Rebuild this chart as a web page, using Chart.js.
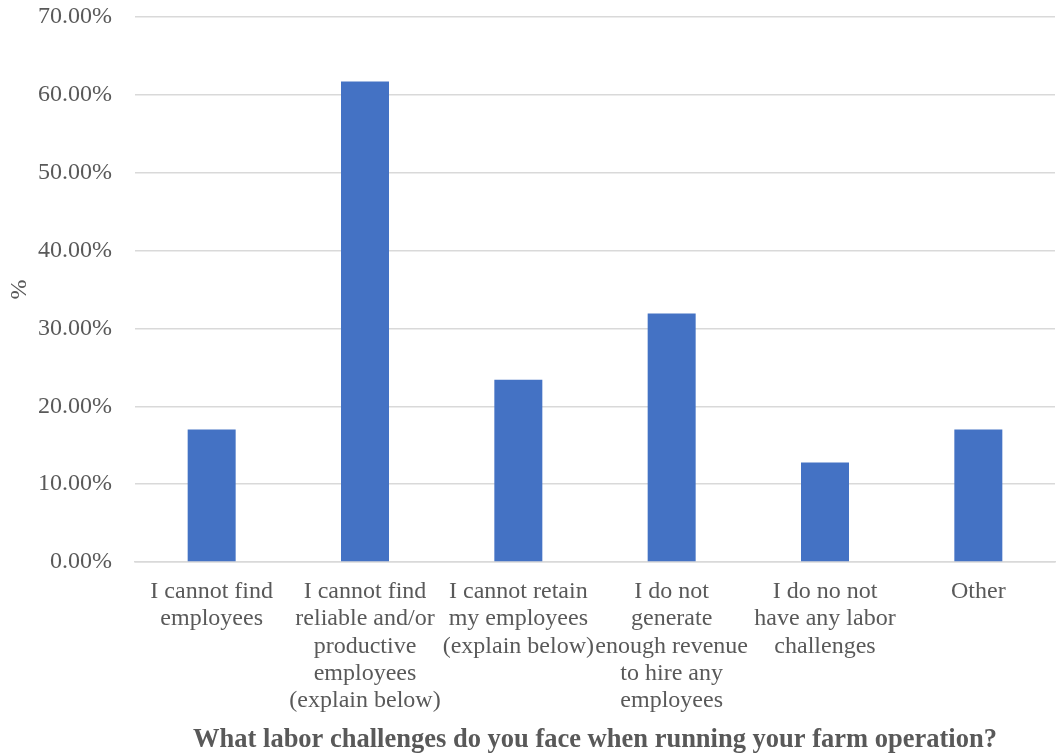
<!DOCTYPE html>
<html>
<head>
<meta charset="utf-8">
<script src="https://cdn.jsdelivr.net/npm/chart.js@4"></script>
<style>
  html, body { margin: 0; padding: 0; background: #fff; }
  #wrap { width: 1056px; height: 753px; }
</style>
</head>
<body>
<div id="wrap"><canvas id="laborChart"></canvas></div>
<script>
// answers to the labor challenges question, % of respondents
const categories = [
  ["I cannot find", "employees"],
  ["I cannot find", "reliable and/or", "productive", "employees", "(explain below)"],
  ["I cannot retain", "my employees", "(explain below)"],
  ["I do not", "generate", "enough revenue", "to hire any", "employees"],
  ["I do no not", "have any labor", "challenges"],
  ["Other"]
];
const shares = [17.02, 61.70, 23.40, 31.91, 12.77, 17.02];
const yTicks = [0, 10, 20, 30, 40, 50, 60, 70];

const textColor = "#595959";
const serif = "'Liberation Serif', 'Times New Roman', serif";

const ctx = document.getElementById("laborChart").getContext("2d");
new Chart(ctx, {
  type: "bar",
  data: {
    labels: categories,
    datasets: [{
      label: "%",
      data: shares,
      backgroundColor: "#4472C4",
      borderWidth: 0,
      barPercentage: 0.313,
      categoryPercentage: 1
    }]
  },
  options: {
    responsive: true,
    maintainAspectRatio: false,
    animation: false,
    layout: { padding: { top: 17, right: 1, bottom: 0, left: 5 } },
    plugins: {
      legend: { display: false },
      tooltip: { enabled: false }
    },
    scales: {
      x: {
        afterFit: axis => { axis.height = 191; },
        grid: { display: false, drawTicks: false },
        border: { display: true, color: "#D9D9D9", width: 1.5 },
        ticks: {
          color: textColor,
          font: { family: serif, size: 24, lineHeight: 1.14 },
          padding: 16,
          maxRotation: 0,
          autoSkip: false
        },
        title: {
          display: true,
          text: "What labor challenges do you face when running your farm operation?",
          color: textColor,
          font: { family: serif, size: 26.5, weight: "bold", lineHeight: 1 },
          padding: { top: 0, bottom: 0 }
        }
      },
      y: {
        min: 0,
        max: 70,
        afterBuildTicks: axis => { axis.ticks = yTicks.map(v => ({ value: v })); },
        // fixed axis width; drop the label padding so the plot starts at the top
        afterFit: axis => {
          axis.width = 130;
          axis.paddingTop = 0;
          axis.paddingBottom = 0;
        },
        grid: { color: "#D9D9D9", lineWidth: 1.5, drawTicks: false },
        border: { display: false },
        ticks: {
          color: textColor,
          font: { family: serif, size: 24 },
          padding: 23,
          callback: v => v.toFixed(2) + "%"
        },
        title: {
          display: true,
          text: "%",
          color: textColor,
          font: { family: serif, size: 24 },
          padding: { top: 0, bottom: 0 }
        }
      }
    }
  }
});
</script>
</body>
</html>
